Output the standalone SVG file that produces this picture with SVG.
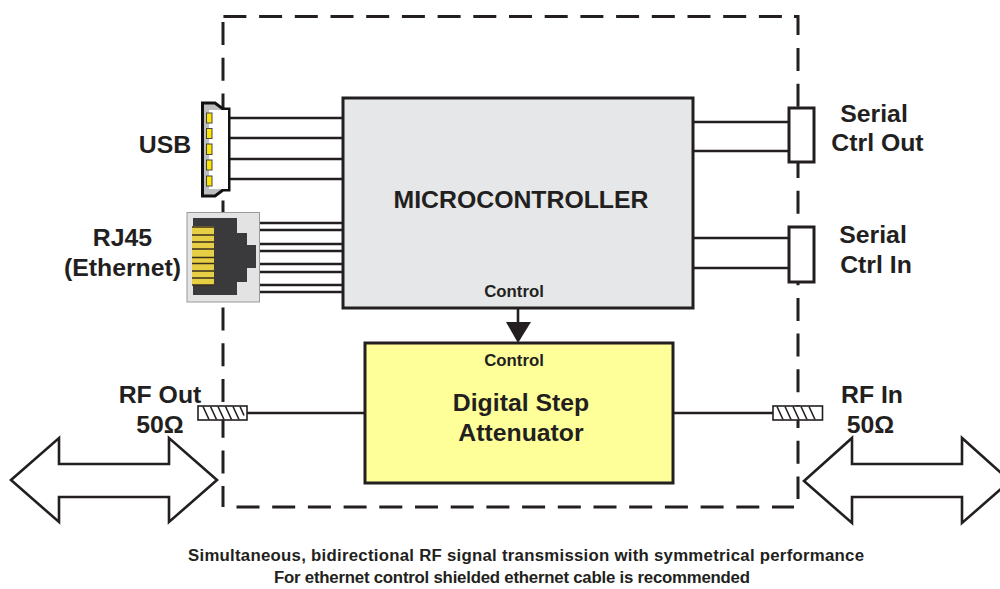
<svg xmlns="http://www.w3.org/2000/svg" width="1000" height="589" viewBox="0 0 1000 589">
<style>
text{font-family:"Liberation Sans",Arial,sans-serif;font-weight:700;fill:#231f20;text-anchor:middle}
.l{font-size:24.8px}
.s{font-size:16.8px}
.n{font-size:16.8px}
.w{stroke:#231f20;stroke-width:2.6;fill:none}
.box{stroke:#231f20;stroke-width:3}
.arrow{fill:#fff;stroke:#231f20;stroke-width:2.6;stroke-linejoin:miter}
.dash{fill:none;stroke:#231f20;stroke-width:3;stroke-dasharray:23 12.7}
.conn{fill:#fff;stroke:#231f20;stroke-width:1.6}
.hatch{fill:none;stroke:#231f20;stroke-width:1.6}
</style>
<rect width="1000" height="589" fill="#fff"/>
<g id="boundary">
<path class="dash" d="M223.400 16.500H782"/>
<path class="dash" d="M236.500 507H794"/>
<path class="dash" d="M223 22V507"/>
<path class="dash" d="M798 48V499"/>
<path d="M794 16.500H798V35" fill="none" stroke="#231f20" stroke-width="3"/>
</g>
<g id="connectors">
<path class="w" d="M230 118H343M230 138H343M230 159H343M230 179H343"/>
<path class="w" d="M259 223H343M259 230H343M259 244H343M259 251H343M259 264H343M259 272H343M259 285H343M259 292H343"/>
<path class="w" d="M693 122H789M693 151H789M693 238H789M693 268H789"/>
<path class="w" d="M247 413H365M673 413H773"/>
<path class="w" d="M518 308V323"/>
<polygon points="506,322 531,322 518,343" fill="#231f20"/>
</g>
<g id="microcontroller"><rect class="box" x="343" y="98" width="350" height="210" fill="#e6e7e8"/><text class="l" x="521" y="208">MICROCONTROLLER</text><text class="n" x="514" y="297">Control</text></g>
<g id="attenuator"><rect class="box" x="365" y="343" width="308" height="140" fill="#ffff99"/><text class="n" x="514" y="366">Control</text><text class="l" x="521" y="411">Digital Step</text><text class="l" x="521" y="441">Attenuator</text></g>
<g id="usb">
<path d="M202.500 103H215L223 109H229V190H223L215 196H202.500Z" fill="#bcbec0" stroke="#111" stroke-width="3"/>
<rect x="209" y="110" width="19" height="79" fill="#fff"/>
<g fill="#ffe600" stroke="#444" stroke-width="1"><rect x="206.500" y="113" width="5.500" height="10"/><rect x="206.500" y="128.500" width="5.500" height="10"/><rect x="206.500" y="144" width="5.500" height="10.500"/><rect x="206.500" y="160" width="5.500" height="10"/><rect x="206.500" y="176" width="5.500" height="10"/></g>
<text class="l" x="165" y="153">USB</text>
</g>
<g id="rj45">
<rect x="187" y="212.500" width="72.500" height="89.500" fill="#e3e3e3" stroke="#999" stroke-width="1"/>
<path d="M193 218H237V233H247V245H256V268H247V282H237V295H193Z" fill="#3a3a3c"/>
<rect x="192" y="226" width="22" height="59" fill="#e6cf45"/>
<path d="M192 227H214M192 235H214M192 242H214M192 249H214M192 257.500H214M192 263.500H214M192 271H214M192 278H214M192 285H214" stroke="#3a2f1c" stroke-width="1.400" fill="none"/>
<text class="l" x="122.500" y="246">RJ45</text><text class="l" x="122.500" y="276">(Ethernet)</text>
</g>
<g id="serial-out"><rect class="box" x="789" y="108" width="25" height="54" fill="#fff"/><text class="l" x="874" y="122">Serial</text><text class="l" x="877.500" y="151">Ctrl Out</text></g>
<g id="serial-in"><rect class="box" x="789" y="227" width="25" height="55" fill="#fff"/><text class="l" x="873" y="243">Serial</text><text class="l" x="876" y="273">Ctrl In</text></g>
<g id="rf-out"><rect class="conn" x="198" y="406" width="49" height="14"/><path class="hatch" d="M203 406.500l6 13M210.500 406.500l6 13M218 406.500l6 13M225.500 406.500l6 13M233 406.500l6 13M240 406.500l4 9"/><text class="l" x="160" y="403">RF Out</text><text class="l" x="160" y="433">50Ω</text></g>
<g id="rf-in"><rect class="conn" x="773" y="406" width="49.500" height="14"/><path class="hatch" d="M777 406.500l6 13M785 406.500l6 13M793 406.500l6 13M801 406.500l6 13M809 406.500l6 13"/><text class="l" x="872" y="403">RF In</text><text class="l" x="870.500" y="433">50Ω</text></g>
<g id="arrow-left"><polygon class="arrow" points="11,480 59,438 59,464 169,464 169,438 217,480 169,522 169,497 59,497 59,522"/></g>
<g id="arrow-right"><polygon class="arrow" points="804,481 852,438 852,464 962,464 962,438 1010,481 962,523 962,497 852,497 852,523"/></g>
<g id="caption"><text class="s" x="526" y="561" textLength="676">Simultaneous, bidirectional RF signal transmission with symmetrical performance</text><text class="s" x="512" y="583" textLength="476">For ethernet control shielded ethernet cable is recommended</text></g>
</svg>
